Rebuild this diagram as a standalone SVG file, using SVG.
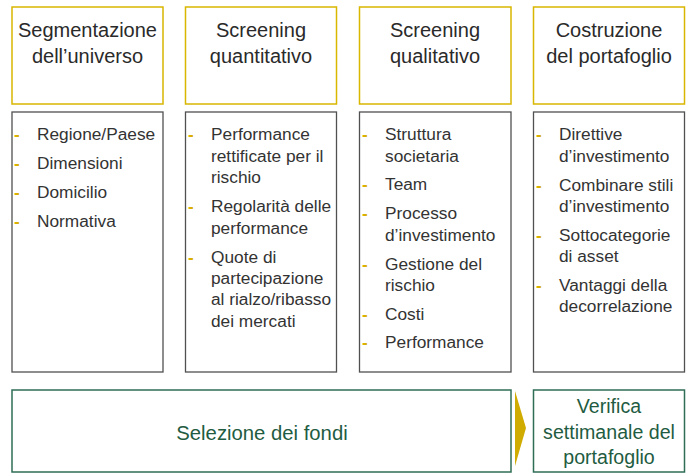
<svg xmlns="http://www.w3.org/2000/svg" width="688" height="473" viewBox="0 0 688 473">
<style>
.hdr{fill:#fff;stroke:#d9b600;stroke-width:1.5}
.body{fill:#fff;stroke:#505050;stroke-width:1.3}
.grn{fill:#fff;stroke:#2f6e55;stroke-width:1.5}
.ht{font-family:"Liberation Sans",Arial,sans-serif;font-size:20px;fill:#2a2a2a;text-anchor:middle}
.bt{font-family:"Liberation Sans",Arial,sans-serif;font-size:17.3px;fill:#333}
.bu{font-family:"Liberation Sans",Arial,sans-serif;font-size:17px;font-weight:bold;fill:#d9b000}
.gt{font-family:"Liberation Sans",Arial,sans-serif;fill:#1f5c42;text-anchor:middle}
</style>
<rect width="688" height="473" fill="#fff"/>
<g id="col1">
<rect class="hdr" x="12" y="7" width="151" height="97"/>
<text class="ht" x="87.5" y="37">Segmentazione</text>
<text class="ht" x="87.5" y="63">dell’universo</text>
<rect class="body" x="12" y="112" width="151" height="260"/>
<text class="bu" x="14" y="140">-</text><text class="bt" x="37" y="140">Regione/Paese</text>
<text class="bu" x="14" y="169">-</text><text class="bt" x="37" y="169">Dimensioni</text>
<text class="bu" x="14" y="198">-</text><text class="bt" x="37" y="198">Domicilio</text>
<text class="bu" x="14" y="227">-</text><text class="bt" x="37" y="227">Normativa</text>
</g>
<g id="col2">
<rect class="hdr" x="185.5" y="7" width="151" height="97"/>
<text class="ht" x="261" y="37">Screening</text>
<text class="ht" x="261" y="63">quantitativo</text>
<rect class="body" x="185.5" y="112" width="151" height="260"/>
<text class="bu" x="188" y="140">-</text><text class="bt" x="211" y="140">Performance</text>
<text class="bt" x="211" y="162">rettificate per il</text>
<text class="bt" x="211" y="183">rischio</text>
<text class="bu" x="188" y="212">-</text><text class="bt" x="211" y="212">Regolarità delle</text>
<text class="bt" x="211" y="234">performance</text>
<text class="bu" x="188" y="263">-</text><text class="bt" x="211" y="263">Quote di</text>
<text class="bt" x="211" y="284">partecipazione</text>
<text class="bt" x="211" y="305">al rialzo/ribasso</text>
<text class="bt" x="211" y="327">dei mercati</text>
</g>
<g id="col3">
<rect class="hdr" x="359.5" y="7" width="151.5" height="97"/>
<text class="ht" x="435" y="37">Screening</text>
<text class="ht" x="435" y="63">qualitativo</text>
<rect class="body" x="359.5" y="112" width="151.5" height="260"/>
<text class="bu" x="362" y="140">-</text><text class="bt" x="385" y="140">Struttura</text>
<text class="bt" x="385" y="162">societaria</text>
<text class="bu" x="362" y="190">-</text><text class="bt" x="385" y="190">Team</text>
<text class="bu" x="362" y="219">-</text><text class="bt" x="385" y="219">Processo</text>
<text class="bt" x="385" y="241">d’investimento</text>
<text class="bu" x="362" y="270">-</text><text class="bt" x="385" y="270">Gestione del</text>
<text class="bt" x="385" y="291">rischio</text>
<text class="bu" x="362" y="320">-</text><text class="bt" x="385" y="320">Costi</text>
<text class="bu" x="362" y="348">-</text><text class="bt" x="385" y="348">Performance</text>
</g>
<g id="col4">
<rect class="hdr" x="533.5" y="7" width="151" height="97"/>
<text class="ht" x="609" y="37">Costruzione</text>
<text class="ht" x="609" y="63">del portafoglio</text>
<rect class="body" x="533.5" y="112" width="151" height="260"/>
<text class="bu" x="536" y="140">-</text><text class="bt" x="559" y="140">Direttive</text>
<text class="bt" x="559" y="162">d’investimento</text>
<text class="bu" x="536" y="191">-</text><text class="bt" x="559" y="191">Combinare stili</text>
<text class="bt" x="559" y="212">d’investimento</text>
<text class="bu" x="536" y="241">-</text><text class="bt" x="559" y="241">Sottocategorie</text>
<text class="bt" x="559" y="262">di asset</text>
<text class="bu" x="536" y="291">-</text><text class="bt" x="559" y="291">Vantaggi della</text>
<text class="bt" x="559" y="312">decorrelazione</text>
</g>
<g id="selezione">
<rect class="grn" x="12" y="390" width="499" height="82"/>
<text class="gt" x="262" y="440" font-size="20.3">Selezione dei fondi</text>
</g>
<g id="connectors">
<polygon points="515,391 526,428 515,466" fill="#d0ab00"/>
</g>
<g id="verifica">
<rect class="grn" x="533.5" y="390" width="151" height="82"/>
<text class="gt" x="609" y="413" font-size="19.6">Verifica</text>
<text class="gt" x="609" y="438.5" font-size="19.6">settimanale del</text>
<text class="gt" x="609" y="463.5" font-size="19.6">portafoglio</text>
</g>
</svg>
